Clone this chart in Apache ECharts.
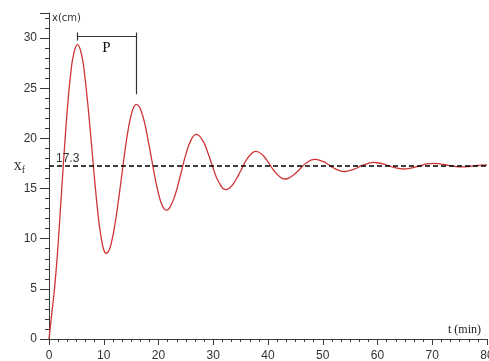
<!DOCTYPE html>
<html>
<head>
<meta charset="utf-8">
<script src="https://cdn.jsdelivr.net/npm/echarts@6/dist/echarts.min.js"></script>
<style>
html,body{margin:0;padding:0;background:#fff;}
#c{width:489px;height:361px;}
</style>
</head>
<body>
<div id="c"></div>
<script>
// time (min)
const times = [0,0.5,1,1.5,2,2.5,3,3.5,4,4.5,5.2,6,6.5,7,7.5,8,8.5,9,9.5,10,10.45,11,11.5,12,12.5,13,13.5,14,14.5,15,15.5,15.95,16.5,17,17.5,18,18.5,19,19.5,20,20.5,21,21.4,22,23,24,25,26,26.9,28,29,30,31,32.3,33,34,35,36,37,37.75,39,40,41,42,43.1,44,45,46,47,48.5,50,51,52,53,54,55,56,57,58,59.3,60,61,62,63,64.7,66,67,68,69,70.1,71,72,73,74,75.5,77,78,79,80];
// x (cm)
const positions = [0,2.5,5.0,8.2,12.2,16.4,20.4,23.9,26.6,28.4,29.35,28.2,26.35,23.9,21.0,17.9,14.9,12.2,10.2,8.9,8.55,8.9,9.85,11.3,13.1,15.1,17.2,19.25,21.0,22.3,23.15,23.4,23.15,22.45,21.45,20.1,18.65,17.15,15.7,14.5,13.55,13.0,12.85,13.05,14.3,16.3,18.4,19.9,20.4,19.85,18.6,17.0,15.65,14.9,15.05,15.75,16.75,17.8,18.5,18.7,18.35,17.65,16.85,16.25,15.95,16.1,16.5,17.05,17.55,17.9,17.7,17.4,17.05,16.8,16.7,16.8,17.0,17.25,17.45,17.6,17.57,17.45,17.28,17.1,16.95,17.03,17.16,17.32,17.45,17.5,17.48,17.4,17.3,17.21,17.15,17.22,17.28,17.33,17.36];
// final value
const finalValue = 17.3;
const finalLabel = '17.3';
// period bracket (t values and x values)
const periodStart = 5.1;
const periodEnd = 15.9;
const bracketY = 30.14;
const bracketTop = 30.55;
const leftTickBottom = 29.75;
const rightTickBottom = 24.4;

const xTicks = {min: 0, max: 80, interval: 10};
const yTicks = {min: 0, max: 32.5, interval: 5};

const seriesData = times.map((t, i) => [t, positions[i]]);

const chart = echarts.init(document.getElementById('c'), null, {renderer: 'canvas'});
const axisColor = '#3a3a3a';
const labelFont = {color: '#333', fontSize: 12, fontFamily: 'Liberation Sans'};

chart.setOption({
  animation: false,
  backgroundColor: '#fff',
  grid: {left: 49, right: 2, top: 13, bottom: 22, containLabel: false, outerBoundsMode: 'none'},
  xAxis: {
    type: 'value', min: xTicks.min, max: xTicks.max, interval: xTicks.interval,
    axisLine: {show: true, onZero: false, lineStyle: {color: axisColor, width: 1}},
    axisTick: {show: true, length: 6, lineStyle: {color: axisColor}},
    minorTick: {show: true, splitNumber: 6, length: 3, lineStyle: {color: axisColor}},
    splitLine: {show: false},
    axisLabel: Object.assign({margin: 11}, labelFont),
    name: 't (min)', nameLocation: 'end', nameGap: -6,
    nameTextStyle: {align: 'right', verticalAlign: 'bottom', padding: [0, 0, 3, 0], fontSize: 12, fontFamily: 'Liberation Serif', color: '#222'}
  },
  yAxis: {
    type: 'value', min: yTicks.min, max: yTicks.max, interval: yTicks.interval,
    axisLine: {show: true, onZero: false, lineStyle: {color: axisColor, width: 1}},
    axisTick: {show: true, length: 9, lineStyle: {color: axisColor}},
    minorTick: {show: true, splitNumber: 5, length: 4, lineStyle: {color: axisColor}},
    splitLine: {show: false},
    axisLabel: Object.assign({margin: 12, showMaxLabel: false}, labelFont),
    name: 'x(cm)', nameLocation: 'end', nameGap: 0,
    nameTextStyle: {align: 'left', verticalAlign: 'top', padding: [0, 0, 0, 3], fontSize: 10, fontFamily: 'DejaVu Sans', color: '#333'}
  },
  series: [{
    type: 'line',
    data: seriesData,
    smooth: true,
    showSymbol: false,
    lineStyle: {color: '#cf3434', width: 1.3},
    silent: true,
    markLine: {
      silent: true,
      symbol: ['none', 'none'],
      data: [
        {yAxis: finalValue, lineStyle: {color: '#000', type: [5, 3], width: 1.5},
          label: {show: true, position: 'insideStartTop', distance: [7, 1], formatter: finalLabel, color: '#333', fontSize: 12, fontFamily: 'Liberation Sans'}},
        {yAxis: finalValue, lineStyle: {color: 'rgba(0,0,0,0)', width: 1},
          label: {show: true, position: 'start', distance: 24, formatter: '{a|x}{b|f}', color: '#333',
            rich: {a: {fontSize: 16, fontFamily: 'Liberation Serif', color: '#333'}, b: {fontSize: 10, fontFamily: 'Liberation Serif', color: '#333', padding: [9, 0, 0, 0]}}}},
        [{coord: [periodStart, bracketY], lineStyle: {color: '#333', width: 1.2, type: 'solid'},
          label: {show: true, position: 'insideMiddleBottom', distance: 4, formatter: 'P', color: '#111', fontSize: 15, fontFamily: 'Liberation Serif'}},
         {coord: [periodEnd, bracketY]}],
        [{coord: [periodStart, bracketTop], lineStyle: {color: '#333', width: 1.2, type: 'solid'}, label: {show: false}},
         {coord: [periodStart, leftTickBottom]}],
        [{coord: [periodEnd, bracketTop], lineStyle: {color: '#333', width: 1.2, type: 'solid'}, label: {show: false}},
         {coord: [periodEnd, rightTickBottom]}]
      ]
    }
  }]
});
</script>
</body>
</html>
